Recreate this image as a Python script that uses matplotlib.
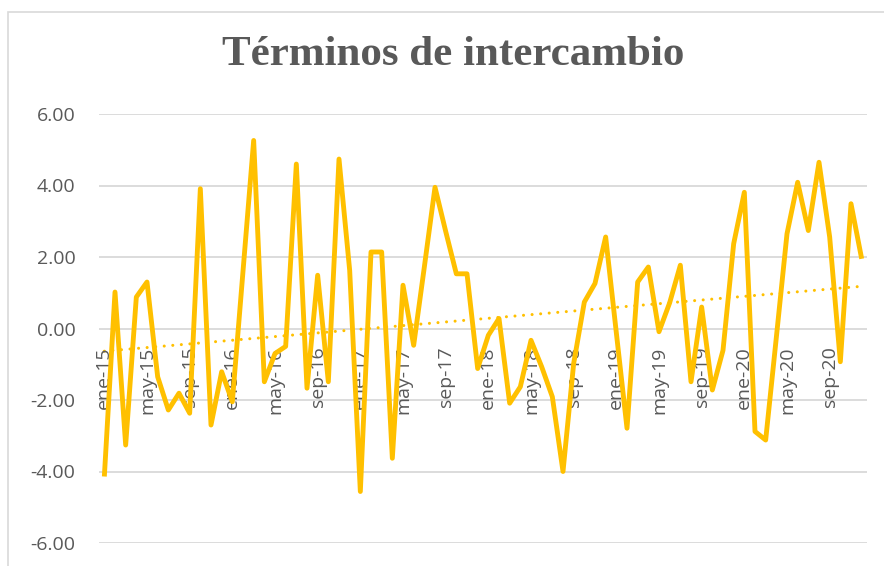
import numpy as np
import matplotlib
matplotlib.use("Agg")
import matplotlib.pyplot as plt
from matplotlib.patches import Rectangle

# ---- data ----
months_es = ["ene", "feb", "mar", "abr", "may", "jun", "jul", "ago", "sep", "oct", "nov", "dic"]
years = ["15", "16", "17", "18", "19", "20"]
categories = [f"{m}-{y}" for y in years for m in months_es]

values = [
    -4.14, 1.02, -3.26, 0.88, 1.30, -1.35, -2.28, -1.81, -2.37, 3.91, -2.70, -1.21,   # 2015
    -2.05, 1.60, 5.26, -1.49, -0.70, -0.50, 4.60, -1.67, 1.49, -1.49, 4.74, 1.63,      # 2016
    -4.56, 2.14, 2.14, -3.63, 1.21, -0.47, 1.72, 3.95, 2.72, 1.53, 1.53, -1.12,        # 2017
    -0.19, 0.28, -2.09, -1.63, -0.33, -1.07, -1.91, -4.00, -0.98, 0.74, 1.26, 2.56,    # 2018
    -0.12, -2.79, 1.30, 1.72, -0.09, 0.72, 1.77, -1.49, 0.60, -1.72, -0.61, 2.37,      # 2019
    3.81, -2.88, -3.12, -0.25, 2.65, 4.09, 2.74, 4.65, 2.56, -0.93, 3.49, 1.95,        # 2020
]

yticks = [-6, -4, -2, 0, 2, 4, 6]
title = "Términos de intercambio"

# ---- figure ----
W, H = 884, 566
fig = plt.figure(figsize=(W / 100, H / 100), dpi=100)

# chart border
fig.patches.append(Rectangle((8 / W, -0.1), 1.2, 1 - 12 / H + 0.1, transform=fig.transFigure,
                             fill=False, edgecolor="#d9d9d9", linewidth=1.2, zorder=0))

left, right = 99 / W, 867 / W
top, bottom = 1 - 114 / H, 1 - 543 / H
ax = fig.add_axes([left, bottom, right - left, top - bottom])

x = np.arange(len(values))
gray = "#595959"
gold = "#FFC000"

for yt in yticks:
    ax.axhline(yt, color="#d9d9d9", linewidth=1.3, zorder=1)

ax.plot(x, values, color=gold, linewidth=3.5, solid_joinstyle="round",
        solid_capstyle="butt", zorder=3)

# linear trend line
coef = np.polyfit(x, values, 1)
trend = np.polyval(coef, x)
ax.plot(x, trend, color=gold, linewidth=2.2, linestyle=(0, (0.01, 2.8)),
        dash_capstyle="round", zorder=2)

ax.set_xlim(-0.5, len(values) - 0.5)
ax.set_ylim(-6, 6)

for s in ax.spines.values():
    s.set_visible(False)

ax.set_yticks(yticks)
ax.set_yticklabels([f"{v:.2f}" for v in yticks], fontsize=14, color=gray,
                   family="Open Sans")
ax.tick_params(axis="y", length=0, pad=17)
ax.set_xticks([])

# x labels placed at the zero line (Excel style, axis crossing at 0)
for i in range(0, len(categories), 4):
    ax.annotate(categories[i], xy=(i, 0), xytext=(0, -13), textcoords="offset points",
                rotation=90, ha="center", va="top", fontsize=14, color=gray,
                family="Open Sans", zorder=2)

fig.text(453 / W, 1 - 55 / H, title, ha="center", va="center", fontsize=31,
         fontweight="bold", color=gray, family="Liberation Serif")

fig.savefig("out.png", dpi=100)
